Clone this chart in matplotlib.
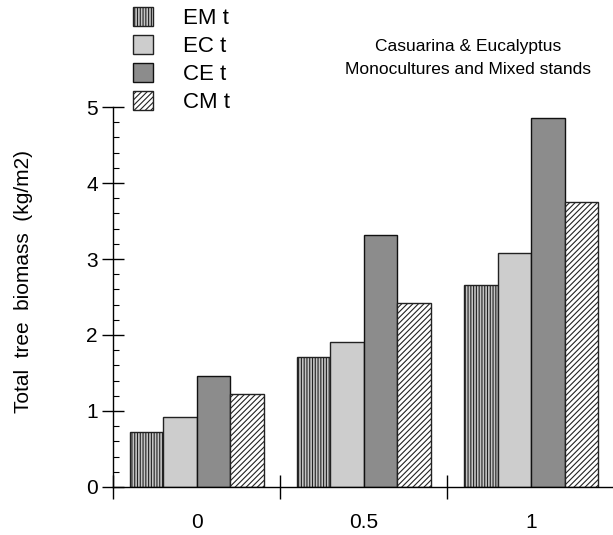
import numpy as np
import matplotlib.pyplot as plt
from matplotlib.ticker import MultipleLocator, FixedLocator

plt.rcParams['font.family'] = ['Liberation Sans', 'DejaVu Sans']
plt.rcParams['hatch.linewidth'] = 0.8

# Data
groups = ["0", "0.5", "1"]
series = ["EM t", "EC t", "CE t", "CM t"]
em_t = [0.72, 1.71, 2.66]
ec_t = [0.92, 1.91, 3.08]
ce_t = [1.46, 3.32, 4.86]
cm_t = [1.22, 2.42, 3.75]
values = [em_t, ec_t, ce_t, cm_t]

# fill / hatch styles for each series
styles = [
    dict(color="#c4c4c4", hatch="||||||", edgecolor="#222222"),
    dict(color="#cdcdcd", hatch="", edgecolor="#222222"),
    dict(color="#8c8c8c", hatch="", edgecolor="#111111"),
    dict(color="white", hatch="//////", edgecolor="#222222"),
]

fig = plt.figure(figsize=(6.13, 5.35), dpi=100)
ax = fig.add_axes([113 / 613, 48 / 535, 500 / 613, 380 / 535])

x = np.arange(len(groups))
width = 0.2
handles = []
for i, (vals, st) in enumerate(zip(values, styles)):
    b = ax.bar(x + (i - 1.5) * width, vals, width, color=st["color"],
               hatch=st["hatch"], edgecolor=st["edgecolor"], linewidth=1.0,
               label=series[i])
    handles.append(b)

ax.set_xlim(-0.5, 2.49)
ax.set_ylim(0, 5)

ax.spines["top"].set_visible(False)
ax.spines["right"].set_visible(False)
ax.spines["left"].set_linewidth(1.0)
ax.spines["bottom"].set_linewidth(1.0)

# x: labels at group centres, tick marks at group boundaries
ax.set_xticks(x)
ax.set_xticklabels(groups, fontsize=15)
ax.tick_params(axis="x", which="major", length=0, pad=19)
ax.xaxis.set_minor_locator(FixedLocator([-0.5, 0.5, 1.5]))
ax.tick_params(axis="x", which="minor", direction="inout", length=17, width=1.0)

# y ticks
ax.yaxis.set_major_locator(MultipleLocator(1))
ax.yaxis.set_minor_locator(MultipleLocator(0.2))
ax.tick_params(axis="y", which="major", direction="inout", length=16, width=1.0,
               labelsize=15, pad=3)
ax.tick_params(axis="y", which="minor", direction="in", length=4, width=0.8)

ax.set_ylabel("Total  tree  biomass  (kg/m2)", fontsize=15)
ax.yaxis.set_label_coords(-0.16, 0.54)

fig.text(468 / 613, 1 - 47 / 535, "Casuarina & Eucalyptus", ha="center",
         va="center", fontsize=12.5)
fig.text(468 / 613, 1 - 70 / 535, "Monocultures and Mixed stands", ha="center",
         va="center", fontsize=12.5)

fig.legend(handles=handles, loc="upper left", bbox_to_anchor=(133 / 613, 1 - 7 / 535),
           frameon=False, fontsize=16, handlelength=0.9, handleheight=0.95,
           handletextpad=1.35, labelspacing=0.26, borderpad=0, borderaxespad=0)

fig.savefig("out.png", dpi=100, facecolor="white")
